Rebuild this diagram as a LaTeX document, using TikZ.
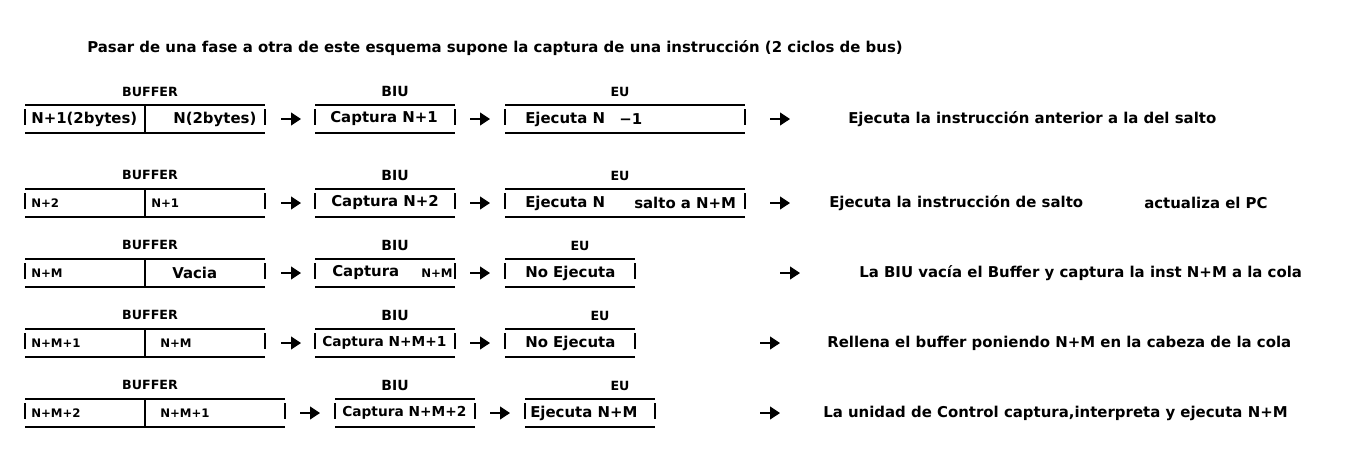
\documentclass[tikz,border=0pt]{standalone}
\usepackage{fontspec}
\setmainfont{DejaVu Sans}
\usetikzlibrary{arrows.meta}
\newcommand{\unitbox}[3]{% x1, x2, ytop
  \draw[boxline] (#1,#3) -- (#2,#3) (#1,#3+28) -- (#2,#3+28)
    (#1,#3+4) -- (#1,#3+20) (#2,#3+4) -- (#2,#3+20);}
\newcommand{\bufbox}[4]{% x1, xdiv, x2, ytop
  \unitbox{#1}{#3}{#4}
  \draw[boxline] (#2,#4) -- (#2,#4+28);}
\newcommand{\flowarrow}[3]{% name, x, y
  \coordinate (#1s) at (#2,#3);
  \coordinate (#1e) at (#2+20,#3);
  \draw[flow] (#1s) -- (#1e);}
\begin{document}
\begin{tikzpicture}[x=0.75pt,y=-0.75pt,
  boxline/.style={line width=0.8pt},
  flow/.style={line width=0.8pt,-{Triangle[length=7.5pt,width=9.75pt]}},
  main/.style={font=\fontsize{11.2}{13}\selectfont\bfseries,inner sep=0pt,anchor=west},
  tight/.style={font=\fontsize{10.3}{12}\selectfont\bfseries,inner sep=0pt,anchor=west},
  small/.style={font=\fontsize{8.8}{10}\selectfont\bfseries,inner sep=0pt,anchor=west},
  lab/.style={font=\fontsize{9.5}{11}\selectfont\bfseries,inner sep=0pt},
  biu/.style={font=\fontsize{10.5}{12}\selectfont\bfseries,inner sep=0pt}]
\useasboundingbox[fill=white] (0,0) rectangle (1370,462);

\node[main] (title) at (87,48) {Pasar de una fase a otra de este esquema supone la captura de una instrucción (2 ciclos de bus)};

% ---------- Row 1 ----------
\node[lab] (buf1) at (150,92) {BUFFER};
\node[biu] (biu1) at (395,91) {BIU};
\node[lab] (eu1) at (620,92) {EU};
\bufbox{25}{145}{265}{105}
\unitbox{315}{455}{105}
\unitbox{505}{745}{105}
\node[main] (r1a) at (31,119) {N+1(2bytes)};
\node[main] (r1b) at (173,119) {N(2bytes)};
\node[main] (r1c) at (330,119) {Captura N+1};
\node[main] (r1d) at (525,119) {Ejecuta N};
\node[main] (r1e) at (619,119) {−1};
\node[main] (r1f) at (848,119) {Ejecuta la instrucción anterior a la del salto};
\flowarrow{a11}{281}{119}
\flowarrow{a12}{470}{119}
\flowarrow{a13}{770}{119}

% ---------- Row 2 ----------
\node[lab] (buf2) at (150,175) {BUFFER};
\node[biu] (biu2) at (395,175) {BIU};
\node[lab] (eu2) at (620,176) {EU};
\bufbox{25}{145}{265}{189}
\unitbox{315}{455}{189}
\unitbox{505}{745}{189}
\node[small] (r2a) at (31,203) {N+2};
\node[small] (r2b) at (151,203) {N+1};
\node[main] (r2c) at (331,203) {Captura N+2};
\node[main] (r2d) at (525,203) {Ejecuta N};
\node[main] (r2e) at (634,203) {salto a N+M};
\node[main] (r2f) at (829,203) {Ejecuta la instrucción de salto};
\node[main] (r2g) at (1144,203) {actualiza el PC};
\flowarrow{a21}{281}{203}
\flowarrow{a22}{470}{203}
\flowarrow{a23}{770}{203}

% ---------- Row 3 ----------
\node[lab] (buf3) at (150,245) {BUFFER};
\node[biu] (biu3) at (395,245) {BIU};
\node[lab] (eu3) at (580,246) {EU};
\bufbox{25}{145}{265}{259}
\unitbox{315}{455}{259}
\unitbox{505}{635}{259}
\node[small] (r3a) at (31,273) {N+M};
\node[main] (r3b) at (172,273) {Vacia};
\node[main] (r3c) at (332,273) {Captura};
\node[small] (r3d) at (421,273) {N+M};
\node[main] (r3e) at (525,273) {No Ejecuta};
\node[main] (r3f) at (859,273) {La BIU vacía el Buffer y captura la inst N+M a la cola};
\flowarrow{a31}{281}{273}
\flowarrow{a32}{470}{273}
\flowarrow{a33}{780}{273}

% ---------- Row 4 ----------
\node[lab] (buf4) at (150,315) {BUFFER};
\node[biu] (biu4) at (395,315) {BIU};
\node[lab] (eu4) at (600,316) {EU};
\bufbox{25}{145}{265}{329}
\unitbox{315}{455}{329}
\unitbox{505}{635}{329}
\node[small] (r4a) at (31,343) {N+M+1};
\node[small] (r4b) at (160,343) {N+M};
\node[tight] (r4c) at (322,343) {Captura N+M+1};
\node[main] (r4d) at (525,343) {No Ejecuta};
\node[main] (r4e) at (827,343) {Rellena el buffer poniendo N+M en la cabeza de la cola};
\flowarrow{a41}{281}{343}
\flowarrow{a42}{470}{343}
\flowarrow{a43}{760}{343}

% ---------- Row 5 ----------
\node[lab] (buf5) at (150,385) {BUFFER};
\node[biu] (biu5) at (395,385) {BIU};
\node[lab] (eu5) at (620,386) {EU};
\bufbox{25}{145}{285}{399}
\unitbox{335}{475}{399}
\unitbox{525}{655}{399}
\node[small] (r5a) at (31,413) {N+M+2};
\node[small] (r5b) at (160,413) {N+M+1};
\node[tight] (r5c) at (342,413) {Captura N+M+2};
\node[main] (r5d) at (530,413) {Ejecuta N+M};
\node[main] (r5e) at (823,413) {La unidad de Control captura,interpreta y ejecuta N+M};
\flowarrow{a51}{300}{413}
\flowarrow{a52}{490}{413}
\flowarrow{a53}{760}{413}
\end{tikzpicture}
\end{document}
